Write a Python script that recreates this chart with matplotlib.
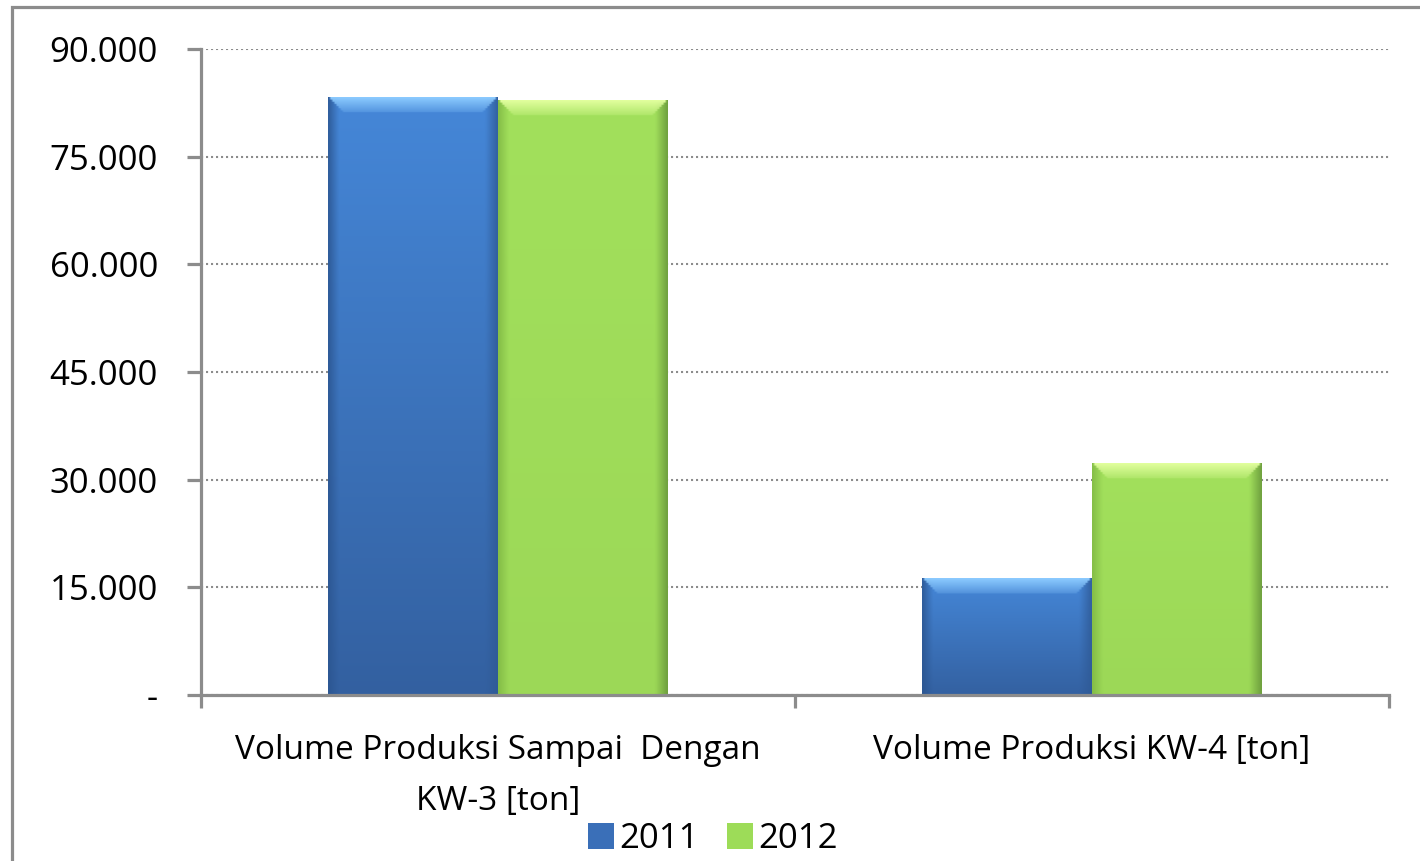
import numpy as np
import matplotlib
matplotlib.use('Agg')
import matplotlib.pyplot as plt
from matplotlib.patches import Patch, Rectangle
from matplotlib.ticker import FuncFormatter

plt.rcParams['font.family'] = ['Open Sans', 'DejaVu Sans']

# data
categories = ['Volume Produksi Sampai  Dengan\nKW-3 [ton]', 'Volume Produksi KW-4 [ton]']
series = ['2011', '2012']
vals_2011 = [83200, 16200]
vals_2012 = [82800, 32300]

grey = '#8c8c8c'


def hex2rgb(h):
    h = h.lstrip('#')
    return np.array([int(h[i:i + 2], 16) for i in (0, 2, 4)]) / 255.0


def bar_image(val, top, bot, light, left, right):
    # fake the office-style bevel on a bar
    ny = max(int(val / 60), 20)
    nx = 80
    t = np.linspace(0, 1, ny)[:, None]  # 0 = top row
    img = hex2rgb(top)[None, None, :] * (1 - t[..., None]) + hex2rgb(bot)[None, None, :] * t[..., None]
    img = np.repeat(img, nx, axis=1)
    xs = np.linspace(0, 1, nx)
    # side shading
    lw = np.clip(1 - xs / 0.06, 0, 1)
    rw = np.clip(1 - (1 - xs) / 0.07, 0, 1)
    img = img * (1 - lw[None, :, None] * 0.8) + hex2rgb(left)[None, None, :] * lw[None, :, None] * 0.8
    img = img * (1 - rw[None, :, None] * 0.8) + hex2rgb(right)[None, None, :] * rw[None, :, None] * 0.8
    # top bevel
    bev = 2100.0
    depth = (np.linspace(0, 1, ny) * val)[:, None]
    side = np.minimum(xs, 1 - xs)[None, :] * 170 / 15 * bev
    mask = (depth < bev) & (side > depth)
    k = np.clip(1 - depth / bev, 0, 1) * 0.8 + 0.2
    lig = hex2rgb(light)
    img = np.where(mask[..., None], img * (1 - k[..., None]) + lig * k[..., None], img)
    return img


fig = plt.figure(figsize=(14.2, 8.61), dpi=100)
ax = fig.add_axes([201 / 1420, 1 - 695 / 861, 1188 / 1420, 646 / 861])

x = np.arange(len(categories))
w = 0.286

ax.set_yticks(np.arange(0, 90001, 15000))
ax.yaxis.set_major_formatter(FuncFormatter(lambda v, p: '-' if v == 0 else f'{int(v):,}'.replace(',', '.')))
ax.yaxis.grid(True, color=grey, linestyle=(0, (1, 1.4)), linewidth=1.5)
ax.set_axisbelow(True)

styles = {
    '2011': dict(top='#4587d8', bot='#3360a0', light='#8ccbff', left='#2b5590', right='#2f5a96', c='#3a6fb8'),
    '2012': dict(top='#a2e05c', bot='#9cd857', light='#e2ff9e', left='#80b844', right='#66953a', c='#9ddc58'),
}

for off, name, vals in [(-w / 2, '2011', vals_2011), (w / 2, '2012', vals_2012)]:
    s = styles[name]
    for xi, v in zip(x, vals):
        x0 = xi + off - w / 2
        img = bar_image(v, s['top'], s['bot'], s['light'], s['left'], s['right'])
        ax.imshow(img, extent=(x0, x0 + w, -300, v), aspect='auto', origin='upper', zorder=2,
                  interpolation='bilinear', clip_on=False)

ax.set_xlim(-0.5, len(categories) - 0.5)
ax.set_ylim(0, 90000)

for sp in ['top', 'right']:
    ax.spines[sp].set_visible(False)
for sp in ['left', 'bottom']:
    ax.spines[sp].set_color(grey)
    ax.spines[sp].set_linewidth(2.3)
    ax.spines[sp].set_zorder(3)

ax.set_xticks([-0.5, 0.5, 1.5])
ax.set_xticklabels([])
ax.set_xticks(x, minor=True)
ax.set_xticklabels(categories, minor=True, fontsize=24, linespacing=1.72)
ax.tick_params(axis='x', which='major', direction='out', length=9, width=2.3, color=grey)
ax.tick_params(axis='x', which='minor', length=0, pad=28)
ax.tick_params(axis='y', direction='out', length=10, width=2.3, color=grey, labelsize=25, pad=21)

handles = [Patch(facecolor=styles[n]['c'], edgecolor='none') for n in series]
fig.legend(handles, series, loc='center', bbox_to_anchor=(713 / 1420, 1 - 839 / 861), ncol=2,
           frameon=False, fontsize=25, handlelength=0.75, handleheight=0.75, handletextpad=0.15,
           columnspacing=0.8)

# chart border
fig.add_artist(Rectangle((11.5 / 1420, -0.1), 1.2, 1 - 6.5 / 861 + 0.1, transform=fig.transFigure,
                         fill=False, edgecolor=grey, linewidth=2.3))

fig.savefig('out.png', dpi=100)
